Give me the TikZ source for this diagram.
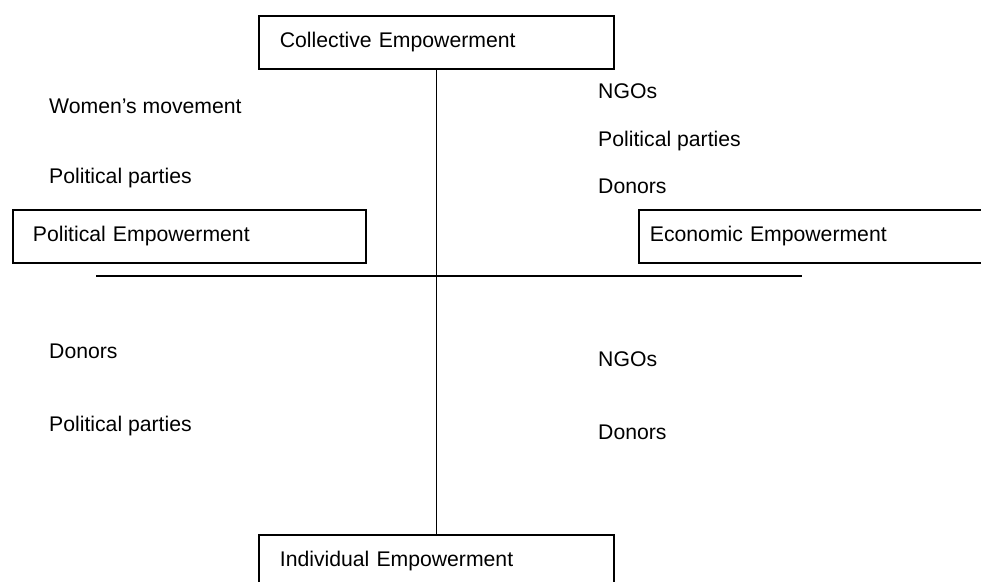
\documentclass[tikz,border=0pt]{standalone}
\usepackage{fontspec}
\setmainfont{Liberation Sans}
\begin{document}
\begin{tikzpicture}[x=1pt,y=-1pt,
  every node/.style={font=\fontsize{21.2}{25}\selectfont},
  ebox/.style={draw, line width=1.8pt, rectangle, minimum height=53pt, inner xsep=21pt, align=left, anchor=north west},
  lbl/.style={anchor=base west, inner sep=0pt},
  ln/.style={line width=1.8pt}]
\clip (0,0) rectangle (981,581);
\useasboundingbox (0,0) rectangle (981,581);
\node[ebox, text width=313pt] (coll) at (258,15) {Collective Empowerment};
\node[ebox, text width=313pt] (indiv) at (258,534) {Individual Empowerment};
\node[ebox, text width=313pt, inner xsep=20pt] (pol) at (12,209) {Political Empowerment};
\node[ebox, text width=340pt, inner xsep=11pt] (eco) at (638,209) {Economic Empowerment};
\coordinate (hl) at (96,276);
\coordinate (hr) at (802,276);
\draw[ln] (coll.south) -- (indiv.north);
\draw[ln] (hl) -- (hr);
\node[lbl] (l1) at (49,113) {Women’s movement};
\node[lbl] (l2) at (49,183) {Political parties};
\node[lbl] (r1) at (598,98) {NGOs};
\node[lbl] (r2) at (598,146) {Political parties};
\node[lbl] (r3) at (598,193) {Donors};
\node[lbl] (l3) at (49,358) {Donors};
\node[lbl] (l4) at (49,431) {Political parties};
\node[lbl] (r4) at (598,366) {NGOs};
\node[lbl] (r5) at (598,439) {Donors};
\end{tikzpicture}
\end{document}
